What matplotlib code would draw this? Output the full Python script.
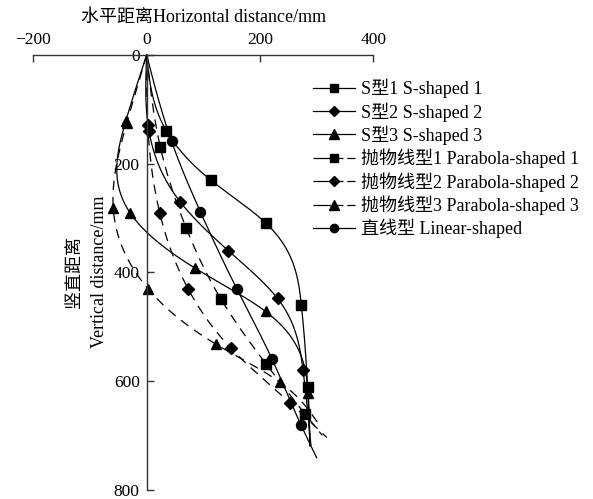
import matplotlib
matplotlib.use('Agg')
import matplotlib.pyplot as plt
import numpy as np
from matplotlib.lines import Line2D

plt.rcParams['font.family'] = ['Liberation Serif', 'Noto Sans CJK SC']
plt.rcParams['axes.unicode_minus'] = True

# horizontal (x) and vertical (y) distance, mm; first point = top, last = line end (no marker)
s1_x = [0, 35, 113, 210, 273, 284, 288]
s1_y = [0, 140, 230, 309, 460, 611, 719]
s2_x = [0, 4, 59, 144, 231, 276, 290]
s2_y = [0, 139, 270, 360, 448, 580, 719]
s3_x = [0, -37, -29, 85, 210, 285, 288]
s3_y = [0, 122, 291, 392, 472, 622, 719]
p1_x = [0, 24, 70, 131, 211, 279, 310]
p1_y = [0, 169, 319, 449, 569, 660, 700]
p2_x = [0, 2, 23, 73, 149, 253, 318]
p2_y = [0, 129, 290, 430, 540, 640, 704]
p3_x = [0, -35, -59, 3, 122, 235, 306]
p3_y = [0, 125, 281, 431, 532, 602, 683]
lin_x = [0, 44, 95, 159, 221, 272, 300]
lin_y = [0, 159, 289, 430, 559, 680, 741]

labels = ['S型1 S-shaped 1', 'S型2 S-shaped 2', 'S型3 S-shaped 3',
          '抛物线型1 Parabola-shaped 1', '抛物线型2 Parabola-shaped 2',
          '抛物线型3 Parabola-shaped 3', '直线型 Linear-shaped']


def smooth(yk, xk, n=300):
    # natural cubic spline x(y) through the points
    yk = np.asarray(yk, float); xk = np.asarray(xk, float)
    m = len(yk); h = np.diff(yk)
    A = np.zeros((m, m)); b = np.zeros(m)
    A[0, 0] = A[-1, -1] = 1
    for i in range(1, m - 1):
        A[i, i - 1] = h[i - 1]; A[i, i] = 2 * (h[i - 1] + h[i]); A[i, i + 1] = h[i]
        b[i] = 3 * ((xk[i + 1] - xk[i]) / h[i] - (xk[i] - xk[i - 1]) / h[i - 1])
    c = np.linalg.solve(A, b)
    bb = np.diff(xk) / h - h * (2 * c[:-1] + c[1:]) / 3
    d = np.diff(c) / (3 * h)
    ys = np.linspace(yk[0], yk[-1], n)
    idx = np.clip(np.searchsorted(yk, ys) - 1, 0, m - 2)
    t = ys - yk[idx]
    xs = xk[idx] + bb[idx] * t + c[idx] * t ** 2 + d[idx] * t ** 3
    return xs, ys


fig = plt.figure(figsize=(5.93, 4.99), dpi=100)
ax = fig.add_axes([0.0562, 0.0186, 0.5733, 0.8712])

dash = (0, (7.5, 5.5))
series = [(s1_x, s1_y, 's', '-'), (s2_x, s2_y, 'D', '-'), (s3_x, s3_y, '^', '-'),
          (p1_x, p1_y, 's', dash), (p2_x, p2_y, 'D', dash), (p3_x, p3_y, '^', dash),
          (lin_x, lin_y, 'o', '-')]
msize = {'s': 6.8, 'D': 6.3, '^': 7.8, 'o': 7.2}

handles = []
for (xv, yv, mk, ls), lab in zip(series, labels):
    xs, ys = smooth(yv, xv)
    ax.plot(xs, ys, color='k', lw=0.9, ls=ls, clip_on=False)
    ax.plot(xv[1:-1], yv[1:-1], ls='none', marker=mk, ms=msize[mk], color='k', clip_on=False)
    hls = ls if ls == '-' else (0, (14, 4, 6, 3))
    handles.append(Line2D([], [], color='k', lw=0.9, ls=hls, marker=mk, ms=msize[mk] - 1.2))

ax.set_xlim(-200, 400)
ax.set_ylim(800, 0)
ax.spines['left'].set_position(('data', 0))
ax.spines['right'].set_visible(False)
ax.spines['bottom'].set_visible(False)
for sp in ['left', 'top']:
    ax.spines[sp].set_color('#333333')
    ax.spines[sp].set_linewidth(1.0)
ax.patch.set_visible(False)

ax.set_xticks([-200, 0, 200, 400])
ax.set_yticks([0, 200, 400, 600, 800])
ax.xaxis.tick_top()
ax.tick_params(axis='x', direction='in', length=5, width=1, color='#333333', labelsize=12.5, pad=5)
ax.tick_params(axis='y', direction='in', length=5, width=1, color='#333333', labelsize=12.5, pad=5)
ax.set_xticklabels(['\u2212200', '0', '200', '400'])

fig.text(0.343, 1 - 17 / 499, '水平距离Horizontal distance/mm', ha='center', va='center', fontsize=13)
fig.text(87 / 593, 1 - 272 / 499, '竖直距离\nVertical distance/mm', ha='center', va='center',
         rotation=90, fontsize=13, linespacing=1.6, multialignment='center')

fig.legend(handles, labels, loc='upper left', bbox_to_anchor=(313 / 593, 1 - 79 / 499),
           frameon=False, fontsize=13, borderpad=0, borderaxespad=0, handlelength=2.3,
           handletextpad=0.35, labelspacing=0.21)

fig.savefig('out.png', dpi=100)
